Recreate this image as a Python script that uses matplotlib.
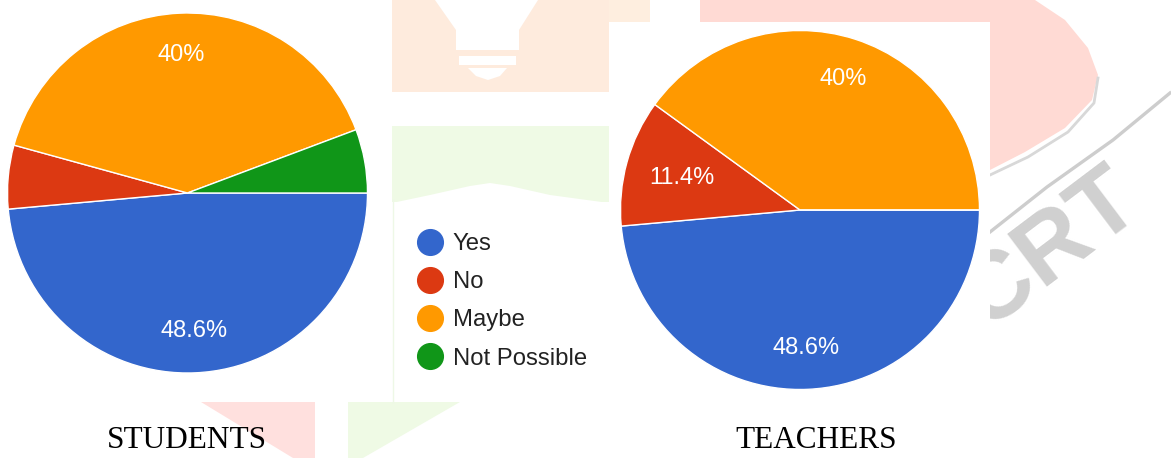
import matplotlib
matplotlib.use("Agg")
import matplotlib.pyplot as plt
from matplotlib.patches import Polygon
from matplotlib.lines import Line2D

# ---- data ----
categories = ["Yes", "No", "Maybe", "Not Possible"]
colors = ["#3366CC", "#DC3912", "#FF9900", "#109618"]
students = [17, 2, 14, 2]      # 48.6%, 5.7%, 40%, 5.7%
teachers = [17, 4, 14, 0]      # 48.6%, 11.4%, 40%, 0%
titles = ["STUDENTS", "TEACHERS"]

W, H = 1171, 458
fig = plt.figure(figsize=(W / 100, H / 100), dpi=100)
fig.patch.set_facecolor("white")

# ---- background watermark (decorative) ----
bg = fig.add_axes([0, 0, 1, 1], zorder=0)
bg.set_xlim(0, W)
bg.set_ylim(H, 0)
bg.axis("off")

def poly(pts, c, z=1):
    bg.add_patch(Polygon(pts, closed=True, facecolor=c, edgecolor="none", zorder=z))

poly([(392, 0), (609, 0), (609, 92), (392, 92)], "#FEEBDD")
poly([(609, 0), (650, 0), (650, 22), (609, 22)], "#FEEEDF")
# bulb cut-outs
poly([(435, 0), (538, 0), (519, 30), (519, 50), (456, 50), (456, 30)], "white", 2)
poly([(459, 56), (516, 56), (516, 65), (459, 65)], "white", 2)
poly([(468, 68), (507, 68), (500, 76), (488, 80), (476, 76)], "white", 2)
poly([(392, 126), (609, 126), (609, 202), (392, 202)], "#EFFAE5")
poly([(392, 203), (430, 195), (470, 186), (490, 183), (510, 186), (550, 195), (609, 203)], "white", 2)
poly([(700, 0), (990, 0), (990, 22), (700, 22)], "#FFDAD4")
poly([(990, 0), (1035, 0), (1065, 20), (1088, 48), (1098, 75), (1092, 100),
      (1065, 128), (1025, 152), (990, 170)], "#FFDAD4")
bg.plot([1098, 1094, 1068, 1028, 990], [78, 103, 132, 157, 175], color="#D8D8D8", lw=2, zorder=2)
bg.plot([990, 1047, 1113, 1170], [232, 187, 140, 93], color="#CDCDCD", lw=2.4, zorder=2)
bg.text(1050, 250, "CRT", rotation=37, color="#D0D0D0", fontsize=70, fontweight="bold",
        family="Liberation Sans", ha="center", va="center", zorder=2)
poly([(201, 402), (315, 402), (315, 458), (293, 458)], "#FFE0DE")
poly([(348, 402), (460, 402), (363, 458), (348, 458)], "#EFFAE5")
# white chart boxes
poly([(609, 22), (990, 22), (990, 400), (609, 400)], "white", 3)
poly([(394, 203), (609, 203), (609, 402), (394, 402)], "white", 3)
bg.plot([393, 393], [200, 402], color="#EEF8E6", lw=1, zorder=4)

# ---- pies ----
def fmt(p):
    if p < 8:
        return ""
    s = f"{p:.1f}"
    if s.endswith(".0"):
        s = s[:-2]
    return s + "%"

def add_pie(cx, cy, r, vals):
    ax = fig.add_axes([(cx - r) / W, 1 - (cy + r) / H, 2 * r / W, 2 * r / H], zorder=5)
    wedges, _, autotexts = ax.pie(
        vals, colors=colors, startangle=0, counterclock=False, radius=1,
        autopct=fmt, pctdistance=0.77,
        wedgeprops=dict(edgecolor="white", linewidth=1),
        textprops=dict(color="white", fontsize=17, family="Liberation Sans"))
    total = float(sum(vals))
    for v, t in zip(vals, autotexts):
        if 0 < v / total < 0.15:
            x, y = t.get_position()
            t.set_position((x * 0.68 / 0.77, y * 0.68 / 0.77))
    ax.set_xlim(-1, 1)
    ax.set_ylim(-1, 1)
    ax.set_aspect("equal")
    ax.axis("off")
    return ax

add_pie(187.5, 193, 180, students)
add_pie(800, 210, 179.5, teachers)

# ---- legend ----
handles = [Line2D([], [], marker="o", linestyle="none", markersize=18.5,
                  markerfacecolor=c, markeredgecolor=c) for c in colors]
leg = fig.legend(handles, categories, loc="upper left",
                 bbox_to_anchor=(418 / W, 1 - 233 / H), frameon=False,
                 prop=dict(family="Liberation Sans", size=17.2),
                 handlelength=1, handletextpad=0.45, labelspacing=0.68,
                 borderpad=0, borderaxespad=0)
leg.set_zorder(6)
for t in leg.get_texts():
    t.set_color("#222222")

# ---- captions ----
fig.text(187 / W, 1 - 441 / H, titles[0], ha="center", va="center",
         family="Liberation Serif", fontsize=22.5, color="black", zorder=6)
fig.text(816 / W, 1 - 441 / H, titles[1], ha="center", va="center",
         family="Liberation Serif", fontsize=22.5, color="black", zorder=6)

fig.savefig("out.png", dpi=100, facecolor="white")
